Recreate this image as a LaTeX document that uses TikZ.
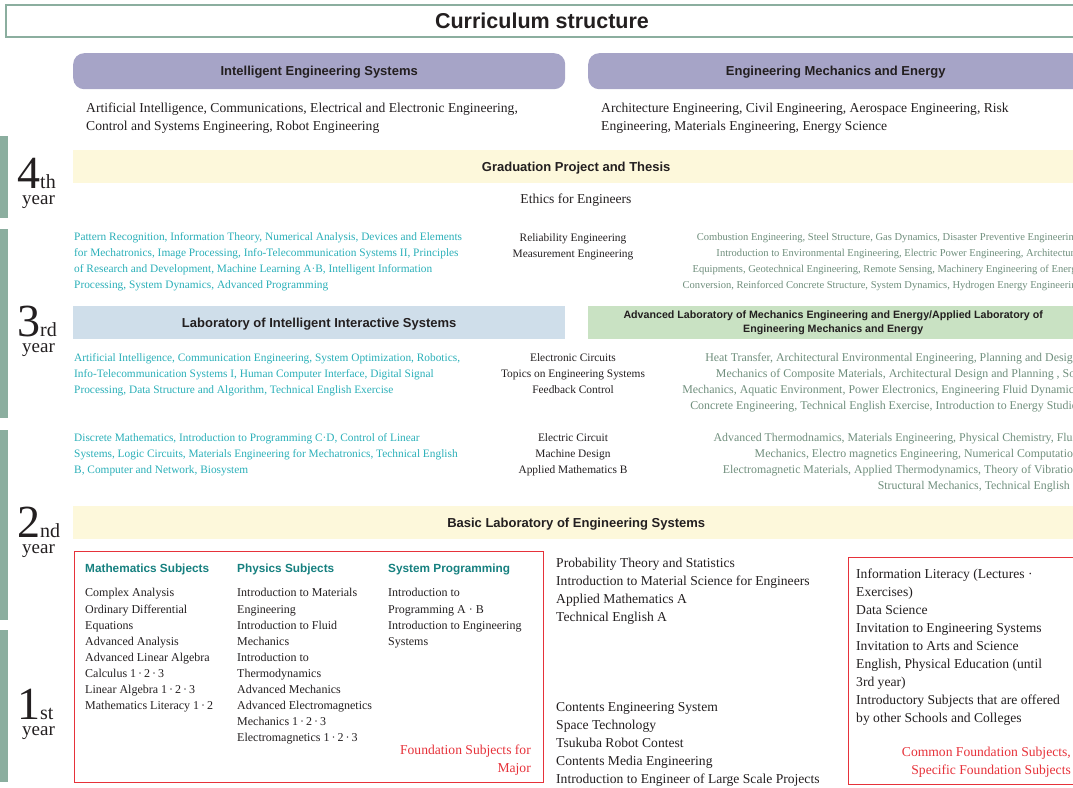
\documentclass[tikz,border=0pt]{standalone}
\usepackage{fontspec}
\setmainfont{Liberation Serif}
\setsansfont{Liberation Sans}
\definecolor{barcol}{HTML}{8BAE9F}
\definecolor{purp}{HTML}{A6A4C7}
\definecolor{yel}{HTML}{FDF8DB}
\definecolor{blu}{HTML}{CFDEEA}
\definecolor{grn}{HTML}{C9E2C3}
\definecolor{tealc}{HTML}{2AAFB8}
\definecolor{greyc}{HTML}{6F8E7C}
\definecolor{headteal}{HTML}{16807F}
\definecolor{redc}{HTML}{E6323A}
\definecolor{darkc}{HTML}{231F20}
\tikzset{
  hfont/.style={font=\sffamily\bfseries\fontsize{13}{15}\selectfont, text=darkc},
  capcenter/.style={text height=9.4pt, text depth=0pt},
  titlebox/.style={anchor=north west, draw=barcol, line width=2pt, inner sep=0pt,
    font=\sffamily\bfseries\fontsize{21.5}{24}\selectfont, text=darkc},
  purplebox/.style={hfont, capcenter, anchor=north west, fill=purp, rounded corners=11pt, inner sep=0pt},
  bandbox/.style={hfont, anchor=north west, inner sep=0pt, align=center},
  redframe/.style={anchor=north west, draw=redc, line width=1pt, inner sep=0pt},
  serifblock/.style={anchor=north west, inner sep=0pt, align=left, text=darkc,
    font=\fontsize{13.6}{18}\selectfont},
  tealblock/.style={anchor=north west, inner sep=0pt, align=left, text=tealc,
    font=\fontsize{11.35}{16}\selectfont},
  midblock/.style={anchor=north, inner sep=0pt, align=center, text=darkc,
    font=\fontsize{11.4}{16}\selectfont},
  greyblock/.style={anchor=north east, inner sep=0pt, align=right, text=greyc},
  colhead/.style={anchor=west, inner sep=0pt, text=headteal,
    font=\sffamily\bfseries\fontsize{11.8}{14}\selectfont},
  colblock/.style={anchor=north west, inner sep=0pt, align=left, text=darkc,
    font=\fontsize{12}{16.1}\selectfont},
  redtext/.style={anchor=north east, inner sep=0pt, align=right, text=redc,
    font=\fontsize{13.6}{18}\selectfont},
  digitnode/.style={anchor=base west, inner sep=0pt, text=darkc, font=\fontsize{46}{46}\selectfont},
  yearnode/.style={anchor=base west, inner sep=0pt, text=darkc, font=\fontsize{19}{19}\selectfont},
}
\newcommand{\sfx}[1]{{\fontsize{20}{20}\selectfont #1}}
\begin{document}
\begin{tikzpicture}[x=1pt,y=-1pt]
\useasboundingbox (0,0) rectangle (1073,787);
\clip (0,0) rectangle (1073,787);

% title
\node[titlebox, minimum width=1072pt, minimum height=32pt] (title) at (5,4) {Curriculum structure};

% programs
\node[purplebox, minimum width=492pt, minimum height=36pt] (ies) at (73,53) {Intelligent Engineering Systems};
\node[purplebox, minimum width=495pt, minimum height=36pt] (eme) at (588,53) {Engineering Mechanics and Energy};
\node[serifblock] (iesdesc) at (86,103) {Artificial Intelligence, Communications, Electrical and Electronic Engineering,\\Control and Systems Engineering, Robot Engineering};
\node[serifblock] (emedesc) at (601,103) {Architecture Engineering, Civil Engineering, Aerospace Engineering, Risk\\Engineering, Materials Engineering, Energy Science};

% year bars
\fill[barcol] (0,136) rectangle (8,218);
\fill[barcol] (0,229) rectangle (8,418);
\fill[barcol] (0,430) rectangle (8,620);
\fill[barcol] (0,630) rectangle (8,782);

% year labels
\node[digitnode] (d4) at (17,188) {4\sfx{th}};
\node[yearnode] (w4) at (22,204) {year};
\node[digitnode] (d3) at (17,336) {3\sfx{rd}};
\node[yearnode] (w3) at (22,352) {year};
\node[digitnode] (d2) at (17,537) {2\sfx{nd}};
\node[yearnode] (w2) at (22,553) {year};
\node[digitnode] (d1) at (17,719) {1\sfx{st}};
\node[yearnode] (w1) at (22,735) {year};

% 4th year
\node[bandbox, capcenter, fill=yel, minimum width=1006pt, minimum height=33pt] (grad) at (73,150) {Graduation Project and Thesis};
\node[anchor=center, inner sep=0pt, text=darkc, font=\fontsize{13.6}{18}\selectfont] (ethics) at (576,200) {Ethics for Engineers};
\node[tealblock] (t4) at (74,232.6) {Pattern Recognition, Information Theory, Numerical Analysis, Devices and Elements\\for Mechatronics, Image Processing, Info-Telecommunication Systems II, Principles\\of Research and Development, Machine Learning A·B, Intelligent Information\\Processing, System Dynamics, Advanced Programming};
\node[midblock] (m4) at (573,233.6) {Reliability Engineering\\Measurement Engineering};
\node[greyblock, font=\fontsize{10.55}{16}\selectfont] (g4) at (1082,233) {Combustion Engineering, Steel Structure, Gas Dynamics, Disaster Preventive Engineering,\\Introduction to Environmental Engineering, Electric Power Engineering, Architectural\\Equipments, Geotechnical Engineering, Remote Sensing, Machinery Engineering of Energy\\Conversion, Reinforced Concrete Structure, System Dynamics, Hydrogen Energy Engineering};

% 3rd year
\node[bandbox, capcenter, fill=blu, minimum width=492pt, minimum height=33pt] (lab3a) at (73,306) {Laboratory of Intelligent Interactive Systems};
\node[bandbox, fill=grn, minimum width=490pt, minimum height=33pt, font=\sffamily\bfseries\fontsize{10.66}{13.5}\selectfont] (lab3b) at (588,306) {Advanced Laboratory of Mechanics Engineering and Energy/Applied Laboratory of\\Engineering Mechanics and Energy};
\node[tealblock] (t3) at (74,353.6) {Artificial Intelligence, Communication Engineering, System Optimization, Robotics,\\Info-Telecommunication Systems I, Human Computer Interface, Digital Signal\\Processing, Data Structure and Algorithm, Technical English Exercise};
\node[midblock] (m3) at (573,353.6) {Electronic Circuits\\Topics on Engineering Systems\\Feedback Control};
\node[greyblock, font=\fontsize{11.9}{16}\selectfont] (g3) at (1082,353.4) {Heat Transfer, Architectural Environmental Engineering, Planning and Design,\\Mechanics of Composite Materials, Architectural Design and Planning , Soil\\Mechanics, Aquatic Environment, Power Electronics, Engineering Fluid Dynamics,\\Concrete Engineering, Technical English Exercise, Introduction to Energy Studies};

% 2nd year
\node[tealblock] (t2) at (74,433.6) {Discrete Mathematics, Introduction to Programming C·D, Control of Linear\\Systems, Logic Circuits, Materials Engineering for Mechatronics, Technical English\\B, Computer and Network, Biosystem};
\node[midblock] (m2) at (573,433.6) {Electric Circuit\\Machine Design\\Applied Mathematics B};
\node[greyblock, font=\fontsize{11.85}{16}\selectfont] (g2) at (1082,433.4) {Advanced Thermodnamics, Materials Engineering, Physical Chemistry, Fluid\\Mechanics, Electro magnetics Engineering, Numerical Computation,\\Electromagnetic Materials, Applied Thermodynamics, Theory of Vibration,\\Structural Mechanics, Technical English\hspace*{12pt}};
\node[bandbox, capcenter, fill=yel, minimum width=1006pt, minimum height=33pt] (basic) at (73,506) {Basic Laboratory of Engineering Systems};

% foundation subjects for major
\node[redframe, minimum width=469pt, minimum height=231pt] (fsm) at (74,551) {};
\node[colhead] (hmath) at (85,569) {Mathematics Subjects};
\node[colhead] (hphys) at (237,569) {Physics Subjects};
\node[colhead] (hprog) at (388,569) {System Programming};
\node[colblock] (cmath) at (85,588.4) {Complex Analysis\\Ordinary Differential\\Equations\\Advanced Analysis\\Advanced Linear Algebra\\Calculus 1\,·\,2\,·\,3\\Linear Algebra 1\,·\,2\,·\,3\\Mathematics Literacy 1\,·\,2};
\node[colblock] (cphys) at (237,588.4) {Introduction to Materials\\Engineering\\Introduction to Fluid\\Mechanics\\Introduction to\\Thermodynamics\\Advanced Mechanics\\Advanced Electromagnetics\\Mechanics 1\,·\,2\,·\,3\\Electromagnetics 1\,·\,2\,·\,3};
\node[colblock] (cprog) at (388,588.4) {Introduction to\\Programming A · B\\Introduction to Engineering\\Systems};
\node[redtext] (fsmlabel) at (531,745) {Foundation Subjects for\\Major};

% middle column
\node[serifblock] (midup) at (556,558) {Probability Theory and Statistics\\Introduction to Material Science for Engineers\\Applied Mathematics A\\Technical English A};
\node[serifblock] (midlow) at (556,702) {Contents Engineering System\\Space Technology\\Tsukuba Robot Contest\\Contents Media Engineering\\Introduction to Engineer of Large Scale Projects};

% common foundation subjects
\node[redframe, minimum width=232pt, minimum height=227pt] (cfs) at (848,557) {};
\node[serifblock] (cfslist) at (856,569) {Information Literacy (Lectures ·\\Exercises)\\Data Science\\Invitation to Engineering Systems\\Invitation to Arts and Science\\English, Physical Education (until\\3rd year)\\Introductory Subjects that are offered\\by other Schools and Colleges};
\node[redtext] (cfslabel) at (1071,747) {Common Foundation Subjects,\\Specific Foundation Subjects};
\end{tikzpicture}
\end{document}
